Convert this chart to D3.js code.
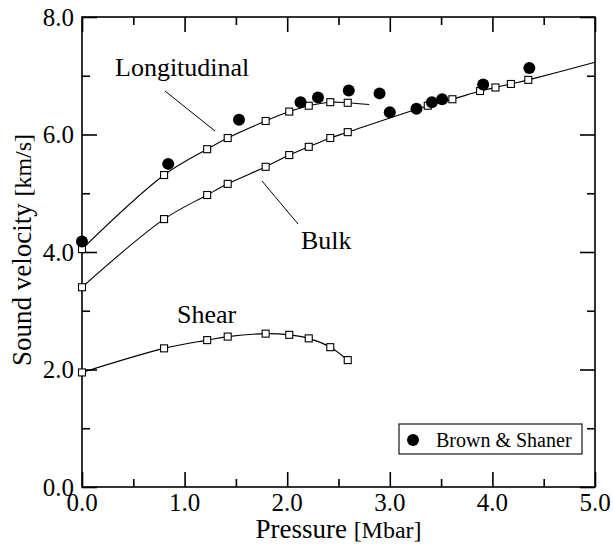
<!DOCTYPE html>
<html>
<head>
<meta charset="utf-8">
<script src="https://cdn.jsdelivr.net/npm/d3@7"></script>
<style>
  html, body { margin: 0; padding: 0; background: #fff; }
  svg { display: block; }
  svg text { font-family: "Liberation Serif", "Times New Roman", Times, "DejaVu Serif", serif; }
</style>
</head>
<body>
<svg id="chart" width="613" height="544"></svg>
<script>
// ---- data ----
const pressure     = [0, 0.80, 1.22, 1.42, 1.79, 2.02, 2.21, 2.42, 2.59];
const longitudinal = [4.05, 5.31, 5.75, 5.94, 6.23, 6.39, 6.49, 6.55, 6.54];
const shear        = [1.95, 2.36, 2.50, 2.56, 2.61, 2.59, 2.53, 2.38, 2.16];
const bulkPressure = [0, 0.80, 1.22, 1.42, 1.79, 2.02, 2.21, 2.42, 2.59, 3.37, 3.61, 3.88, 4.03, 4.18, 4.35];
const bulk         = [3.40, 4.56, 4.97, 5.16, 5.45, 5.65, 5.79, 5.94, 6.04, 6.49, 6.60, 6.74, 6.80, 6.86, 6.93];
// fitted curves extend past the last marker
const longitudinalLineEnd = [2.80, 6.51];
const bulkLineEnd         = [5.00, 7.23];
// Brown & Shaner measurements
const bsPressure = [0, 0.84, 1.53, 2.13, 2.30, 2.60, 2.90, 3.00, 3.26, 3.41, 3.51, 3.91, 4.36];
const bsVelocity = [4.18, 5.50, 6.25, 6.55, 6.63, 6.75, 6.70, 6.38, 6.44, 6.55, 6.60, 6.85, 7.13];
const xTicks = [0, 1, 2, 3, 4, 5];
const yTicks = [0, 2, 4, 6, 8];
const xMinor = [0.5, 1.5, 2.5, 3.5, 4.5];
const yMinor = [1, 3, 5, 7];
const legendLabel = "Brown & Shaner";

// ---- layout ----
const FONT = '"Liberation Serif", "Times New Roman", Times, "DejaVu Serif", serif';
const L = 82, R = 595, T = 17, B = 487;
const svg = d3.select("#chart").attr("font-family", FONT);
const x = d3.scaleLinear().domain([0, 5]).range([L, R]);
const y = d3.scaleLinear().domain([0, 8]).range([B, T]);
const fmt = d3.format(".1f");
const major = 15, minor = 8;

const ax = svg.append("g").attr("stroke", "#000").attr("stroke-width", 1.6);
ax.append("rect").attr("x", L).attr("y", T).attr("width", R - L).attr("height", B - T)
  .attr("fill", "none");
function tickAxis(gen, transform) {
  const g = svg.append("g").attr("transform", transform).call(gen);
  g.select(".domain").remove();
  g.selectAll("line").attr("stroke", "#000").attr("stroke-width", 1.6);
  return g;
}
tickAxis(d3.axisTop(x).tickValues(xTicks).tickSize(major).tickFormat(""), `translate(0,${B})`);
tickAxis(d3.axisTop(x).tickValues(xMinor).tickSize(minor).tickFormat(""), `translate(0,${B})`);
tickAxis(d3.axisBottom(x).tickValues(xTicks).tickSize(major).tickFormat(""), `translate(0,${T})`);
tickAxis(d3.axisBottom(x).tickValues(xMinor).tickSize(minor).tickFormat(""), `translate(0,${T})`);
tickAxis(d3.axisRight(y).tickValues(yTicks).tickSize(major).tickFormat(""), `translate(${L},0)`);
tickAxis(d3.axisRight(y).tickValues(yMinor).tickSize(minor).tickFormat(""), `translate(${L},0)`);
tickAxis(d3.axisLeft(y).tickValues(yTicks).tickSize(major).tickFormat(""), `translate(${R},0)`);
tickAxis(d3.axisLeft(y).tickValues(yMinor).tickSize(minor).tickFormat(""), `translate(${R},0)`);

// tick labels
svg.append("g").selectAll("text").data(xTicks).join("text")
  .attr("x", d => x(d)).attr("y", 511).attr("text-anchor", "middle")
  .attr("font-family", FONT).attr("font-size", 25).text(fmt);
svg.append("g").selectAll("text").data(yTicks).join("text")
  .attr("x", 74).attr("y", d => y(d) + 8.5).attr("text-anchor", "end")
  .attr("font-family", FONT).attr("font-size", 25).text(fmt);

// axis titles
const xt = svg.append("text").attr("x", (L + R) / 2).attr("y", 538)
  .attr("text-anchor", "middle").attr("font-family", FONT).attr("font-size", 27);
xt.append("tspan").text("Pressure ");
xt.append("tspan").attr("font-size", 24).text("[Mbar]");
const yt = svg.append("text").attr("transform", `translate(31,${(T + B) / 2 - 2}) rotate(-90)`)
  .attr("text-anchor", "middle").attr("font-family", FONT).attr("font-size", 27);
yt.append("tspan").text("Sound velocity ");
yt.append("tspan").attr("font-size", 24).text("[km/s]");

// curves
const line = d3.line().x(d => x(d[0])).y(d => y(d[1])).curve(d3.curveCatmullRom.alpha(0.5));
const longPts = pressure.map((p, i) => [p, longitudinal[i]]);
const shearPts = pressure.map((p, i) => [p, shear[i]]);
const bulkPts = bulkPressure.map((p, i) => [p, bulk[i]]);
const lines = svg.append("g").attr("fill", "none").attr("stroke", "#000").attr("stroke-width", 1.1);
lines.append("path").attr("d", line(longPts.concat([longitudinalLineEnd])));
lines.append("path").attr("d", line(shearPts));
lines.append("path").attr("d", line(bulkPts.concat([bulkLineEnd])));

// square markers
const sq = 7;
const marks = svg.append("g").attr("fill", "#fff").attr("stroke", "#000").attr("stroke-width", 1.1);
[longPts, shearPts, bulkPts].forEach(pts => {
  marks.append("g").selectAll("rect").data(pts).join("rect")
    .attr("x", d => x(d[0]) - sq / 2).attr("y", d => y(d[1]) - sq / 2)
    .attr("width", sq).attr("height", sq);
});

// Brown & Shaner circles
svg.append("g").selectAll("circle").data(bsPressure.map((p, i) => [p, bsVelocity[i]])).join("circle")
  .attr("cx", d => x(d[0])).attr("cy", d => y(d[1])).attr("r", 6).attr("fill", "#000");

// annotations
const ann = svg.append("g").attr("font-family", FONT).attr("font-size", 26);
ann.append("text").attr("x", 115).attr("y", 76).text("Longitudinal");
ann.append("text").attr("x", 301).attr("y", 249).text("Bulk");
ann.append("text").attr("x", 177).attr("y", 323).text("Shear");
const lead = svg.append("g").attr("stroke", "#000").attr("stroke-width", 1);
lead.append("line").attr("x1", 165).attr("y1", 91).attr("x2", 215).attr("y2", 131);
lead.append("line").attr("x1", 262).attr("y1", 181).attr("x2", 298).attr("y2", 224);

// legend
const lg = svg.append("g");
lg.append("rect").attr("x", 399).attr("y", 424).attr("width", 183).attr("height", 30)
  .attr("fill", "#fff").attr("stroke", "#000").attr("stroke-width", 1.1);
lg.append("circle").attr("cx", 413).attr("cy", 440).attr("r", 6).attr("fill", "#000");
lg.append("text").attr("x", 436).attr("y", 446.5).attr("font-family", FONT).attr("font-size", 20).text(legendLabel);
</script>
</body>
</html>
